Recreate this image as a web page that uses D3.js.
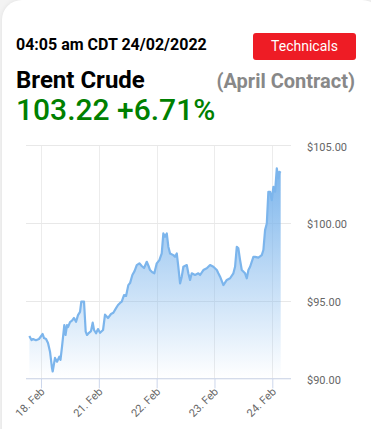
<!DOCTYPE html>
<html>
<head>
<meta charset="utf-8">
<script src="https://cdn.jsdelivr.net/npm/d3@7"></script>
<style>
  html, body { margin: 0; padding: 0; background: #f3f3f3; }
  body { width: 371px; height: 429px; overflow: hidden; position: relative; font-family: Roboto, sans-serif; }
  .card { position: absolute; left: 2px; top: 0; width: 380px; height: 450px; background: #fff;
          border-radius: 20px; box-shadow: 0 0 5px rgba(0,0,0,0.08); }
  svg { position: absolute; left: 0; top: 0; }
</style>
</head>
<body>
<div class="card"></div>
<script>
// header texts
var stamp = "04:05 am CDT 24/02/2022",
    title = "Brent Crude",
    contract = "(April Contract)",
    price = "103.22 +6.71%",
    button = "Technicals";

// x categories (ordinal days, weekend skipped) and y ticks
var dayLabels = ["18. Feb", "21. Feb", "22. Feb", "23. Feb", "24. Feb"];
var yTicks = [90, 95, 100, 105];

// series: position in days from 18 Feb, price in $
var times = [-0.202, -0.164, -0.138, -0.087, -0.035, 0.029, 0.052, 0.087, 0.121, 0.156,
  0.190, 0.202, 0.242, 0.277, 0.317, 0.337, 0.363, 0.403, 0.424, 0.450,
  0.467, 0.502, 0.536, 0.571, 0.606, 0.640, 0.675, 0.697, 0.744, 0.773,
  0.796, 0.830, 0.865, 0.894, 0.917, 0.952, 0.986, 1.021, 1.073, 1.107,
  1.159, 1.211, 1.251, 1.298, 1.332, 1.367, 1.396, 1.436, 1.471, 1.510,
  1.540, 1.580, 1.618, 1.656, 1.701, 1.742, 1.782, 1.829, 1.860, 1.886,
  1.920, 1.960, 2.002, 2.047, 2.088, 2.116, 2.145, 2.175, 2.202, 2.232,
  2.289, 2.318, 2.348, 2.375, 2.405, 2.434, 2.462, 2.521, 2.548, 2.578,
  2.607, 2.664, 2.721, 2.751, 2.808, 2.867, 2.924, 2.981, 3.040, 3.067,
  3.097, 3.154, 3.213, 3.270, 3.327, 3.356, 3.386, 3.413, 3.443, 3.472,
  3.529, 3.559, 3.587, 3.616, 3.673, 3.702, 3.759, 3.818, 3.846, 3.875,
  3.905, 3.932, 3.962, 3.991, 4.019, 4.048, 4.078, 4.105, 4.123, 4.145];
var prices = [92.72, 92.46, 92.53, 92.45, 92.53, 92.85, 92.59, 92.53, 92.27, 91.71,
  90.66, 90.44, 91.31, 91.07, 91.39, 91.18, 92.03, 93.43, 92.79, 93.43,
  93.30, 93.62, 93.71, 93.88, 93.64, 94.07, 94.27, 94.93, 94.93, 93.00,
  92.79, 92.93, 93.04, 93.58, 93.11, 92.90, 93.17, 92.93, 93.11, 94.10,
  93.88, 94.14, 94.22, 94.52, 94.72, 94.85, 94.93, 95.36, 95.30, 96.00,
  96.13, 96.65, 96.90, 97.29, 97.40, 97.23, 97.10, 97.50, 97.23, 96.97,
  96.84, 96.76, 97.40, 97.61, 98.04, 99.33, 99.11, 99.33, 98.47, 98.04,
  97.93, 97.82, 98.04, 97.18, 96.11, 96.54, 97.18, 97.29, 96.76, 96.33,
  96.76, 96.65, 96.76, 96.65, 96.97, 97.08, 97.29, 97.18, 96.97, 96.76,
  96.54, 96.00, 96.33, 96.44, 96.76, 97.18, 98.47, 98.37, 97.61, 96.97,
  96.76, 96.44, 96.97, 97.18, 97.82, 97.82, 97.77, 97.93, 98.26, 99.54,
  99.97, 102.01, 102.01, 101.47, 102.33, 102.01, 103.51, 102.87, 103.29, 103.22];

var data = times.map(function(t, i) { return {t: t, v: prices[i]}; });

var W = 371, H = 429;
var plot = {left: 26, right: 291, top: 145.3, bottom: 378.3};

var svg = d3.select("body").append("svg")
    .attr("width", W)
    .attr("height", H);

// ---- header ----
svg.append("text")
    .attr("x", 16).attr("y", 50)
    .attr("font-size", 16).attr("font-weight", "bold")
    .attr("fill", "#000")
    .text(stamp);

svg.append("rect")
    .attr("x", 253).attr("y", 33)
    .attr("width", 103).attr("height", 27)
    .attr("rx", 3)
    .attr("fill", "#ee1c25");
svg.append("text")
    .attr("x", 304.5).attr("y", 51)
    .attr("text-anchor", "middle")
    .attr("font-size", 14)
    .attr("fill", "#fff")
    .text(button);

svg.append("text")
    .attr("x", 16).attr("y", 88)
    .attr("font-size", 24).attr("font-weight", "bold")
    .attr("fill", "#000")
    .text(title);

svg.append("text")
    .attr("x", 355).attr("y", 88)
    .attr("text-anchor", "end")
    .attr("font-size", 20).attr("font-weight", "bold")
    .attr("fill", "#888")
    .text(contract);

svg.append("text")
    .attr("x", 16).attr("y", 120)
    .attr("font-size", 30).attr("font-weight", 500)
    .attr("fill", "#008000")
    .text(price);

// ---- chart ----
var x = d3.scaleLinear().domain([0, dayLabels.length - 1]).range([41, 272.3]);
var y = d3.scaleLinear().domain([90, 105]).range([plot.bottom, plot.top]);

var defs = svg.append("defs");
var grad = defs.append("linearGradient")
    .attr("id", "fillGrad")
    .attr("gradientUnits", "userSpaceOnUse")
    .attr("x1", 0).attr("x2", 0)
    .attr("y1", y(d3.max(prices))).attr("y2", plot.bottom);
grad.append("stop").attr("offset", 0).attr("stop-color", "#7cb5ec").attr("stop-opacity", 1);
grad.append("stop").attr("offset", 1).attr("stop-color", "#7cb5ec").attr("stop-opacity", 0);

// vertical grid
svg.append("g")
    .attr("transform", "translate(0," + plot.top + ")")
    .call(d3.axisBottom(x).tickValues(d3.range(dayLabels.length))
        .tickSize(plot.bottom - plot.top).tickFormat(""))
    .call(function(g) {
      g.select(".domain").remove();
      g.selectAll("line").attr("stroke", "#ececec").attr("shape-rendering", "crispEdges");
    });

// horizontal grid + y labels
svg.append("g")
    .attr("transform", "translate(" + plot.right + ",0)")
    .call(d3.axisRight(y).tickValues(yTicks)
        .tickSize(-(plot.right - plot.left))
        .tickPadding(16)
        .tickFormat(function(d) { return "$" + d3.format(".2f")(d); }))
    .call(function(g) {
      g.select(".domain").remove();
      g.selectAll("line").attr("stroke", "#e8e8e8").attr("shape-rendering", "crispEdges");
      g.selectAll("text")
          .attr("font-family", "Roboto, sans-serif")
          .attr("font-size", 11)
          .attr("fill", "#666")
          .attr("dy", "0.45em");
    });

// area + line
var area = d3.area()
    .x(function(d) { return x(d.t); })
    .y0(plot.bottom)
    .y1(function(d) { return y(d.v); });

var line = d3.line()
    .x(function(d) { return x(d.t); })
    .y(function(d) { return y(d.v); });

svg.append("path")
    .datum(data)
    .attr("fill", "url(#fillGrad)")
    .attr("d", area);

svg.append("path")
    .datum(data)
    .attr("fill", "none")
    .attr("stroke", "#7cb5ec")
    .attr("stroke-width", 2.2)
    .attr("stroke-linejoin", "round")
    .attr("d", line);

// x axis
var xAxis = svg.append("g")
    .attr("transform", "translate(0," + plot.bottom + ")")
    .call(d3.axisBottom(x).tickValues(d3.range(dayLabels.length))
        .tickSize(10).tickSizeOuter(0)
        .tickFormat(function(d) { return dayLabels[d]; }));

xAxis.select(".domain")
    .attr("d", "M" + plot.left + ",0.5H" + plot.right)
    .attr("stroke", "#ccd6eb");
xAxis.selectAll("line").attr("stroke", "#ccd6eb");
xAxis.selectAll("text")
    .attr("font-family", "Roboto, sans-serif")
    .attr("font-size", 11)
    .attr("fill", "#666")
    .attr("text-anchor", "end")
    .attr("dy", null)
    .attr("y", 0)
    .attr("transform", "translate(4,14) rotate(-45)");
</script>
</body>
</html>
